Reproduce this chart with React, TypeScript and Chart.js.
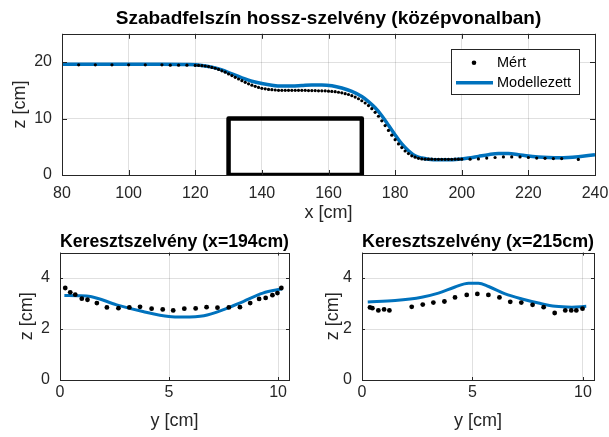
import React, { useEffect, useRef } from "react";
import { Chart, registerables } from "chart.js";
Chart.register(...registerables);

const FONT = "'Liberation Sans', Arial, Helvetica, sans-serif";
const AXIS_COLOR = "#262626";
const BLUE = "#0072BD";
const GRID = "rgba(0,0,0,0.12)";
const TICK_SIZE = 16;
const LABEL_SIZE = 18;
const LEGEND_SIZE = 14.5;

// ---------- Top plot: longitudinal water surface ----------
const topTitle = "Szabadfelszín hossz-szelvény (középvonalban)";
const topXTicks = [80, 100, 120, 140, 160, 180, 200, 220, 240];
const topZTicks = [0, 10, 20];

const topMeasX = [
  85, 90, 95, 100, 105, 110, 112.5, 115, 117.5, 120,
  121, 122, 123, 124, 125, 126, 127, 128, 129, 130,
  131, 132, 133, 134, 135, 136, 137, 138, 139, 140,
  141, 142, 143, 144, 145, 146, 147, 148, 149, 150,
  151, 152, 153, 154, 155, 156, 157, 158, 159, 160,
  161, 162, 163, 164, 165, 166, 167, 168, 169, 170,
  171, 172, 173, 174, 175, 176, 177, 178, 179, 180,
  181, 182, 183, 184, 185, 186, 187, 188, 189, 190,
  191, 192, 193, 194, 195, 196, 197, 198, 199, 200,
  202.5, 205, 207.5, 210, 212.5, 215, 217.5, 220, 222.5, 225, 227.5, 230, 235,
];
const topMeasZ = [
  19.5, 19.5, 19.5, 19.5, 19.5, 19.5, 19.45, 19.45, 19.45, 19.4,
  19.4, 19.35, 19.3, 19.2, 19.05, 18.9, 18.7, 18.45, 18.2, 17.9,
  17.6, 17.3, 17.0, 16.7, 16.4, 16.15, 15.9, 15.7, 15.5, 15.35,
  15.25, 15.15, 15.1, 15.05, 15.0, 15.0, 15.0, 15.0, 15.0, 15.0,
  15.0, 15.0, 15.0, 14.95, 14.95, 14.95, 14.9, 14.9, 14.9, 14.85,
  14.8, 14.75, 14.65, 14.55, 14.4, 14.25, 14.05, 13.8, 13.5, 13.15,
  12.75, 12.3, 11.75, 11.1, 10.4, 9.6, 8.75, 7.9, 7.05, 6.25,
  5.5, 4.85, 4.25, 3.8, 3.4, 3.15, 2.95, 2.85, 2.8, 2.8,
  2.8, 2.78, 2.78, 2.78, 2.78, 2.78, 2.78, 2.8, 2.8, 2.8,
  2.8, 2.85, 3.0, 3.1, 3.2, 3.2, 3.2, 3.1, 3.0, 2.95, 2.9, 2.9, 2.75,
];

const topModelX = [
  80, 90, 100, 110, 118, 122, 125, 128, 131, 134, 137, 140, 143, 146, 149, 152,
  155, 158, 161, 164, 167, 170, 172, 174, 176, 178, 180, 182, 184, 186, 188, 190,
  193, 196, 199, 202, 205, 208, 211, 214, 217, 220, 223, 226, 229, 232, 235, 238, 240,
];
const topModelZ = [
  19.6, 19.6, 19.6, 19.6, 19.55, 19.4, 19.1, 18.6, 17.9, 17.2, 16.6, 16.2, 15.9, 15.75, 15.75, 15.85,
  15.95, 15.95, 15.8, 15.4, 14.8, 13.9, 13.0, 11.9, 10.5, 8.8, 7.1, 5.5, 4.3, 3.4, 3.0, 2.8,
  2.7, 2.7, 2.8, 3.0, 3.3, 3.6, 3.8, 3.8, 3.6, 3.35, 3.2, 3.1, 3.05, 3.1, 3.25, 3.45, 3.6,
];

// obstacle outline (x, z corners)
const obstacleX = [130, 130, 170, 170, 130];
const obstacleZ = [0, 10, 10, 0, 0];

const seriesNames = ["Mért", "Modellezett"];

// ---------- Bottom-left: cross section x=194 ----------
const blTitle = "Keresztszelvény (x=194cm)";
const crossYTicks = [0, 5, 10];
const crossZTicks = [0, 2, 4];
const blMeasY = [0.24, 0.47, 0.7, 1.0, 1.26, 1.69, 2.15, 2.68, 3.18, 3.67, 4.2, 4.71, 5.19, 5.7, 6.22, 6.72, 7.22, 7.74, 8.25, 8.72, 9.13, 9.43, 9.74, 9.97, 10.15];
const blMeasZ = [3.61, 3.44, 3.35, 3.19, 3.15, 3.02, 2.85, 2.82, 2.85, 2.87, 2.8, 2.77, 2.73, 2.8, 2.81, 2.86, 2.84, 2.85, 2.86, 3.02, 3.18, 3.22, 3.33, 3.41, 3.61];
const blModelY = [0.2, 0.8, 1.4, 2.6, 3.8, 5.0, 5.65, 6.6, 7.5, 8.4, 9.3, 10.2];
const blModelZ = [3.32, 3.31, 3.28, 2.95, 2.69, 2.49, 2.47, 2.52, 2.76, 3.08, 3.41, 3.58];

// ---------- Bottom-right: cross section x=215 ----------
const brTitle = "Keresztszelvény (x=215cm)";
const brMeasY = [0.36, 0.47, 0.74, 1.0, 1.24, 2.25, 2.75, 3.23, 3.73, 4.21, 4.74, 5.22, 5.72, 6.22, 6.71, 7.21, 7.72, 8.22, 8.72, 9.2, 9.47, 9.7, 9.98];
const brMeasZ = [2.85, 2.82, 2.73, 2.77, 2.73, 2.87, 2.96, 3.04, 3.08, 3.24, 3.34, 3.38, 3.34, 3.24, 3.07, 3.04, 2.95, 2.86, 2.63, 2.73, 2.73, 2.73, 2.8];
const brModelY = [0.26, 1.5, 2.7, 3.46, 4.21, 4.82, 5.27, 5.73, 6.48, 7.24, 7.99, 8.75, 9.5, 10.15];
const brModelZ = [3.06, 3.12, 3.25, 3.41, 3.65, 3.8, 3.8, 3.67, 3.38, 3.18, 3.02, 2.89, 2.86, 2.89];

const pts = (xs: number[], ys: number[]) => xs.map((x, i) => ({ x, y: ys[i] }));

// box + inward tick marks
const boxPlugin = {
  id: "matlabBox",
  afterDraw(chart: any, _a: any, opts: any) {
    const { ctx, chartArea: ca } = chart;
    const len = opts.tickLen || 4;
    ctx.save();
    ctx.strokeStyle = AXIS_COLOR;
    ctx.lineWidth = 1;
    ctx.beginPath();
    const xs = chart.scales.x;
    const ys = chart.scales.y;
    xs.ticks.forEach((t: any) => {
      const px = Math.round(xs.getPixelForValue(t.value)) + 0.5;
      ctx.moveTo(px, ca.bottom);
      ctx.lineTo(px, ca.bottom - len);
      ctx.moveTo(px, ca.top);
      ctx.lineTo(px, ca.top + len);
    });
    ys.ticks.forEach((t: any) => {
      const py = Math.round(ys.getPixelForValue(t.value)) + 0.5;
      ctx.moveTo(ca.left, py);
      ctx.lineTo(ca.left + len, py);
      ctx.moveTo(ca.right, py);
      ctx.lineTo(ca.right - len, py);
    });
    ctx.stroke();
    ctx.strokeRect(Math.round(ca.left) + 0.5, Math.round(ca.top) + 0.5, Math.round(ca.right - ca.left), Math.round(ca.bottom - ca.top));
    ctx.restore();
  },
};

const legendPlugin = {
  id: "insideLegend",
  afterDraw(chart: any, _a: any, opts: any) {
    if (!opts || !opts.show) return;
    const { ctx, chartArea: ca } = chart;
    const ds = chart.data.datasets;
    const w = 128, h = 45;
    const x0 = ca.right - 16 - w;
    const y0 = ca.top + 15;
    ctx.save();
    ctx.fillStyle = "#fff";
    ctx.fillRect(x0, y0, w, h);
    ctx.strokeStyle = AXIS_COLOR;
    ctx.lineWidth = 1;
    ctx.strokeRect(Math.round(x0) + 0.5, Math.round(y0) + 0.5, w, h);
    ctx.font = `${LEGEND_SIZE}px ${FONT}`;
    ctx.textBaseline = "middle";
    ctx.textAlign = "left";
    // entry 1: dot
    ctx.beginPath();
    ctx.arc(x0 + 23, y0 + 14, 2.3, 0, Math.PI * 2);
    ctx.fillStyle = ds[0].backgroundColor;
    ctx.fill();
    ctx.fillStyle = "#000";
    ctx.fillText(ds[0].label, x0 + 46, y0 + 14);
    // entry 2: line
    ctx.beginPath();
    ctx.moveTo(x0 + 5, y0 + 34);
    ctx.lineTo(x0 + 42, y0 + 34);
    ctx.strokeStyle = ds[1].borderColor;
    ctx.lineWidth = 3.5;
    ctx.stroke();
    ctx.fillText(ds[1].label, x0 + 46, y0 + 34);
    ctx.restore();
  },
};

function axis(o: any) {
  return {
    type: "linear",
    position: o.position,
    min: o.min,
    max: o.max,
    afterBuildTicks: (s: any) => {
      s.ticks = o.ticks.map((v: number) => ({ value: v }));
    },
    afterFit: (s: any) => {
      if (o.position === "bottom") s.height = o.size;
      else s.width = o.size;
      s.paddingLeft = 0;
      s.paddingRight = 0;
      s.paddingTop = 0;
      s.paddingBottom = 0;
    },
    grid: { color: GRID, drawTicks: false, lineWidth: 1 },
    border: { display: false },
    ticks: {
      padding: o.tickPad,
      color: AXIS_COLOR,
      font: { family: FONT, size: TICK_SIZE },
      maxRotation: 0,
      autoSkip: false,
    },
    title: {
      display: true,
      text: o.title,
      color: AXIS_COLOR,
      font: { family: FONT, size: LABEL_SIZE },
      padding: o.titlePad,
    },
  };
}

function makeConfig(p: any) {
  const datasets: any[] = [
    {
      label: seriesNames[0],
      data: p.meas,
      showLine: false,
      pointRadius: p.dotR,
      pointHoverRadius: p.dotR,
      pointBorderWidth: 0,
      backgroundColor: "#000",
      borderColor: "#000",
    },
    {
      label: seriesNames[1],
      data: p.model,
      showLine: true,
      pointRadius: 0,
      borderColor: BLUE,
      backgroundColor: BLUE,
      borderWidth: p.lineW,
      cubicInterpolationMode: "monotone",
      fill: false,
    },
  ];
  if (p.obstacle) {
    datasets.push({
      label: "obstacle",
      data: p.obstacle,
      showLine: true,
      pointRadius: 0,
      borderColor: "#000",
      borderWidth: 4.5,
      borderJoinStyle: "round",
      borderCapStyle: "round",
      tension: 0,
      fill: false,
    });
  }
  return {
    type: "scatter",
    data: { datasets },
    options: {
      responsive: false,
      animation: false,
      events: [],
      layout: { padding: p.padding },
      plugins: {
        legend: { display: false },
        tooltip: { enabled: false },
        title: {
          display: true,
          text: p.title,
          fullSize: false,
          color: "#000",
          font: { family: FONT, size: p.titleSize, weight: "bold" },
          padding: p.titlePad,
        },
        matlabBox: { tickLen: p.tickLen },
        insideLegend: { show: !!p.legend },
      },
      scales: { x: axis(p.x), y: axis(p.y) },
    },
    plugins: [boxPlugin, legendPlugin],
  };
}

function ChartCanvas({ cfg, w, h, left, top }: any) {
  const ref = useRef<HTMLCanvasElement | null>(null);
  useEffect(() => {
    if (!ref.current) return;
    const c = new Chart(ref.current, cfg as any);
    return () => c.destroy();
  }, []);
  return (
    <canvas
      ref={ref}
      width={w}
      height={h}
      style={{ position: "absolute", left, top, width: w, height: h }}
    />
  );
}

export default function App() {
  const topCfg = makeConfig({
    title: topTitle,
    titleSize: 19,
    titlePad: { top: 7, bottom: 4 },
    padding: { left: 0, right: 14, top: 0, bottom: 0 },
    meas: pts(topMeasX, topMeasZ),
    model: pts(topModelX, topModelZ),
    obstacle: pts(obstacleX, obstacleZ),
    dotR: 1.6,
    lineW: 3.5,
    tickLen: 5,
    legend: true,
    x: { position: "bottom", min: 80, max: 240, ticks: topXTicks, title: "x [cm]", size: 50, tickPad: 9, titlePad: { top: 0, bottom: 1 } },
    y: { position: "left", min: 0, max: 25, ticks: topZTicks, title: "z [cm]", size: 62, tickPad: 10, titlePad: { top: 9, bottom: 0 } },
  });
  const blCfg = makeConfig({
    title: blTitle,
    titleSize: 18,
    titlePad: { top: 6, bottom: 0 },
    padding: { left: 0, right: 15, top: 0, bottom: 0 },
    meas: pts(blMeasY, blMeasZ),
    model: pts(blModelY, blModelZ),
    dotR: 2.4,
    lineW: 3,
    tickLen: 3,
    x: { position: "bottom", min: 0, max: 10.5, ticks: crossYTicks, title: "y [cm]", size: 57, tickPad: 3, titlePad: { top: 0, bottom: 5 } },
    y: { position: "left", min: 0, max: 5, ticks: crossZTicks, title: "z [cm]", size: 60, tickPad: 10, titlePad: { top: 16, bottom: 0 } },
  });
  const brCfg = makeConfig({
    title: brTitle,
    titleSize: 18,
    titlePad: { top: 6, bottom: 0 },
    padding: { left: 0, right: 15, top: 0, bottom: 0 },
    meas: pts(brMeasY, brMeasZ),
    model: pts(brModelY, brModelZ),
    dotR: 2.4,
    lineW: 3,
    tickLen: 3,
    x: { position: "bottom", min: 0, max: 10.5, ticks: crossYTicks, title: "y [cm]", size: 57, tickPad: 3, titlePad: { top: 0, bottom: 5 } },
    y: { position: "left", min: 0, max: 5, ticks: crossZTicks, title: "z [cm]", size: 58, tickPad: 10, titlePad: { top: 18, bottom: 0 } },
  });
  return (
    <div style={{ position: "absolute", left: 0, top: 0, width: 609, height: 437, background: "#fff" }}>
      <ChartCanvas cfg={topCfg} w={609} h={225} left={0} top={0} />
      <ChartCanvas cfg={blCfg} w={304} h={212} left={0} top={225} />
      <ChartCanvas cfg={brCfg} w={305} h={212} left={304} top={225} />
    </div>
  );
}
